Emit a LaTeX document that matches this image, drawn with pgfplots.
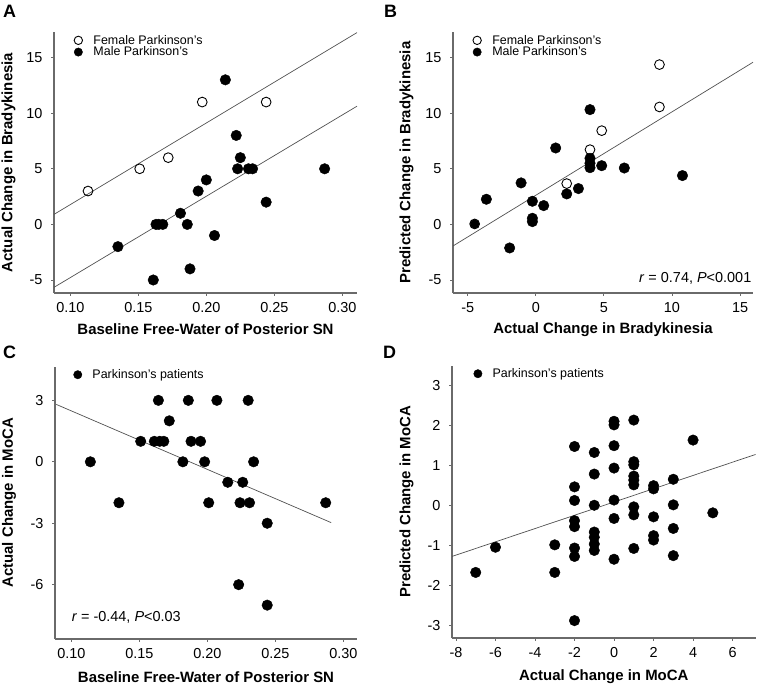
\documentclass[border=0pt]{standalone}
\usepackage{fontspec}
\setmainfont{Liberation Sans}
\usepackage{pgfplots}
\pgfplotsset{compat=1.18}

\definecolor{axgray}{HTML}{6A6A6A}
\definecolor{fitgray}{HTML}{505050}

\pgfplotsset{
  panel/.style={
    scale only axis, anchor=north west,
    axis x line=bottom, axis y line=left,
    axis line style={-, draw=axgray, line width=1.1pt},
    tick style={draw=axgray, line width=0.8pt},
    major tick length=3pt, tick align=outside,
    ticklabel style={font=\fontsize{14.5}{16}\selectfont},
    yticklabel style={xshift=-5pt},
    xticklabel style={yshift=-3pt},
    /pgf/number format/assume math mode=true,
    label style={font=\bfseries\fontsize{15}{17}\selectfont},
    legend style={draw=none, fill=none, font=\fontsize{12.5}{13}\selectfont,
      inner sep=0pt, row sep=-2pt, nodes={inner sep=1.6pt}},
    legend cell align=left,
    legend image code/.code={\path (0cm,0cm) (0.62cm,0cm);
      \draw[##1, mark size=4.2pt] plot coordinates {(0.15cm,0cm)};},
  },
  filled/.style={only marks, mark=*, mark size=5.3pt, draw=black, fill=black},
  hollow/.style={only marks, mark=o, mark size=4.9pt, mark options={draw=black, fill=white, line width=0.9pt}},
  fit/.style={no marks, draw=fitgray, line width=0.7pt},
  swfmt/.style={xticklabel style={/pgf/number format/.cd, fixed, fixed zerofill, precision=2}},
}

\begin{document}
\begin{tikzpicture}
\useasboundingbox (0,0) rectangle (758bp,-688bp);

% ---------- A ----------
\begin{axis}[panel, swfmt, at={(54bp,-32bp)}, width=303bp, height=261bp,
  xmin=0.088, xmax=0.3108, ymin=-6.17, ymax=17.3,
  xtick={0.10,0.15,0.20,0.25,0.30}, ytick={-5,0,5,10,15},
  xlabel={Baseline Free-Water of Posterior SN},
  ylabel={Actual Change in Bradykinesia},
  xlabel style={at={(axis description cs:0.5,-0.14)}, anchor=center},
  ylabel style={at={(axis description cs:-0.15,0.5)}, anchor=center},
  legend style={at={(rel axis cs:0.065,0.995)}, anchor=north west}]
\addplot[hollow] coordinates {(0.113,3)(0.151,5)(0.172,6)(0.197,11)(0.244,11)};
\addlegendentry{Female Parkinson’s}
\addplot[filled] coordinates {
  (0.214,13)(0.222,8)(0.225,6)(0.223,5)(0.231,5)(0.234,5)(0.287,5)
  (0.200,4)(0.194,3)(0.244,2)(0.181,1)(0.163,0)(0.165,0)(0.168,0)
  (0.186,0)(0.206,-1)(0.135,-2)(0.188,-4)(0.161,-5)};
\addlegendentry{Male Parkinson’s}
\addplot[fit, forget plot] coordinates {(0.088,0.9)(0.3108,17.25)};
\addplot[fit, forget plot] coordinates {(0.088,-5.66)(0.3108,10.63)};
\end{axis}

% ---------- B ----------
\begin{axis}[panel, at={(453bp,-32bp)}, width=300bp, height=261bp,
  xmin=-6.08, xmax=15.95, ymin=-6.17, ymax=17.3,
  xtick={-5,0,5,10,15}, ytick={-5,0,5,10,15},
  xlabel={Actual Change in Bradykinesia},
  ylabel={Predicted Change in Bradykinesia},
  xlabel style={at={(axis description cs:0.5,-0.142)}, anchor=center},
  ylabel style={at={(axis description cs:-0.155,0.5)}, anchor=center},
  reverse legend,
  legend style={at={(rel axis cs:0.065,0.995)}, anchor=north west}]
\addplot[fit, forget plot] coordinates {(-6.08,-1.94)(15.95,14.58)};
\addplot[filled] coordinates {
  (3.98,10.32)(1.46,6.87)(3.98,5.94)(3.98,5.5)(3.98,5.1)(4.84,5.28)
  (6.5,5.07)(10.77,4.39)(-1.08,3.73)(-3.63,2.26)(3.13,3.22)(2.27,2.74)
  (-0.25,2.08)(0.58,1.69)(-0.25,0.55)(-0.25,0.25)(-1.92,-2.12)};
\addlegendentry{Male Parkinson’s}
\addplot[hollow] coordinates {(9.08,14.37)(9.08,10.56)(4.84,8.43)(3.98,6.72)(2.27,3.67)(-4.49,0.04)};
\addlegendentry{Female Parkinson’s}
\addplot[filled, mark size=4.5pt, forget plot] coordinates {(-4.49,0.04)};
\node[anchor=east, font=\fontsize{14.5}{16}\selectfont, inner sep=0pt]
  at (rel axis cs:0.995,0.057) {\textit{r} = 0.74, \textit{P}<0.001};
\end{axis}

% ---------- C ----------
\begin{axis}[panel, swfmt, at={(55bp,-366.7bp)}, width=302bp, height=272.3bp,
  xmin=0.088, xmax=0.310, ymin=-8.653, ymax=4.643,
  xtick={0.10,0.15,0.20,0.25,0.30}, ytick={-6,-3,0,3},
  xlabel={Baseline Free-Water of Posterior SN},
  ylabel={Actual Change in MoCA},
  xlabel style={at={(axis description cs:0.5,-0.14)}, anchor=center},
  ylabel style={at={(axis description cs:-0.152,0.5)}, anchor=center},
  legend style={at={(rel axis cs:0.06,0.995)}, anchor=north west,
    nodes={inner sep=1.2pt}}]
\addplot[filled] coordinates {
  (0.114,0)(0.135,-2)(0.151,1)(0.161,1)(0.165,1)(0.168,1)(0.164,3)
  (0.172,2)(0.182,0)(0.186,3)(0.188,1)(0.195,1)(0.198,0)(0.201,-2)
  (0.207,3)(0.215,-1)(0.226,-1)(0.224,-2)(0.231,-2)(0.230,3)(0.234,0)
  (0.223,-6)(0.244,-3)(0.244,-7)(0.287,-2)};
\addlegendentry{Parkinson’s patients}
\addplot[fit, forget plot] coordinates {(0.089,2.80)(0.291,-2.97)};
\node[anchor=west, font=\fontsize{14.5}{16}\selectfont, inner sep=0pt]
  at (rel axis cs:0.055,0.08) {\textit{r} = -0.44, \textit{P}<0.03};
\end{axis}

% ---------- D ----------
\begin{axis}[panel, at={(452bp,-365.7bp)}, width=303.5bp, height=272.3bp,
  xmin=-8.2, xmax=7.16, ymin=-3.31, ymax=3.50,
  xtick={-8,-6,-4,-2,0,2,4,6}, ytick={-3,-2,-1,0,1,2,3},
  xlabel={Actual Change in MoCA},
  ylabel={Predicted Change in MoCA},
  xlabel style={at={(axis description cs:0.5,-0.143)}, anchor=center},
  ylabel style={at={(axis description cs:-0.15,0.5)}, anchor=center},
  legend style={at={(rel axis cs:0.07,0.995)}, anchor=north west,
    nodes={inner sep=1.2pt}}]
\addplot[filled] coordinates {
  (-7,-1.67)(-6,-1.04)(-3,-0.98)(-3,-1.67)
  (-2,1.48)(-2,0.47)(-2,0.13)(-2,-0.375)(-2,-0.525)(-2,-1.06)(-2,-1.27)(-2,-2.875)
  (-1,1.33)(-1,0.79)(-1,0.01)(-1,-0.66)(-1,-0.79)(-1,-0.96)(-1,-1.12)
  (0,2.11)(0,2.02)(0,1.5)(0,0.94)(0,0.14)(0,-0.32)(0,-1.34)
  (1,2.14)(1,1.1)(1,1.02)(1,0.74)(1,0.64)(1,0.52)(1,-0.03)(1,-0.23)(1,-1.07)
  (2,0.5)(2,0.42)(2,-0.28)(2,-0.75)(2,-0.86)
  (3,0.66)(3,0.02)(3,-0.57)(3,-1.25)
  (4,1.64)(5,-0.18)};
\addlegendentry{Parkinson’s patients}
\addplot[fit, forget plot] coordinates {(-8.2,-1.27)(7.16,1.28)};
\end{axis}

% panel letters
\node[anchor=north west, inner sep=0pt, font=\bfseries\fontsize{18}{20}\selectfont] at (3bp,-5bp) {A};
\node[anchor=north west, inner sep=0pt, font=\bfseries\fontsize{18}{20}\selectfont] at (384bp,-5bp) {B};
\node[anchor=north west, inner sep=0pt, font=\bfseries\fontsize{18}{20}\selectfont] at (3bp,-346bp) {C};
\node[anchor=north west, inner sep=0pt, font=\bfseries\fontsize{18}{20}\selectfont] at (383bp,-346bp) {D};
\end{tikzpicture}
\end{document}
